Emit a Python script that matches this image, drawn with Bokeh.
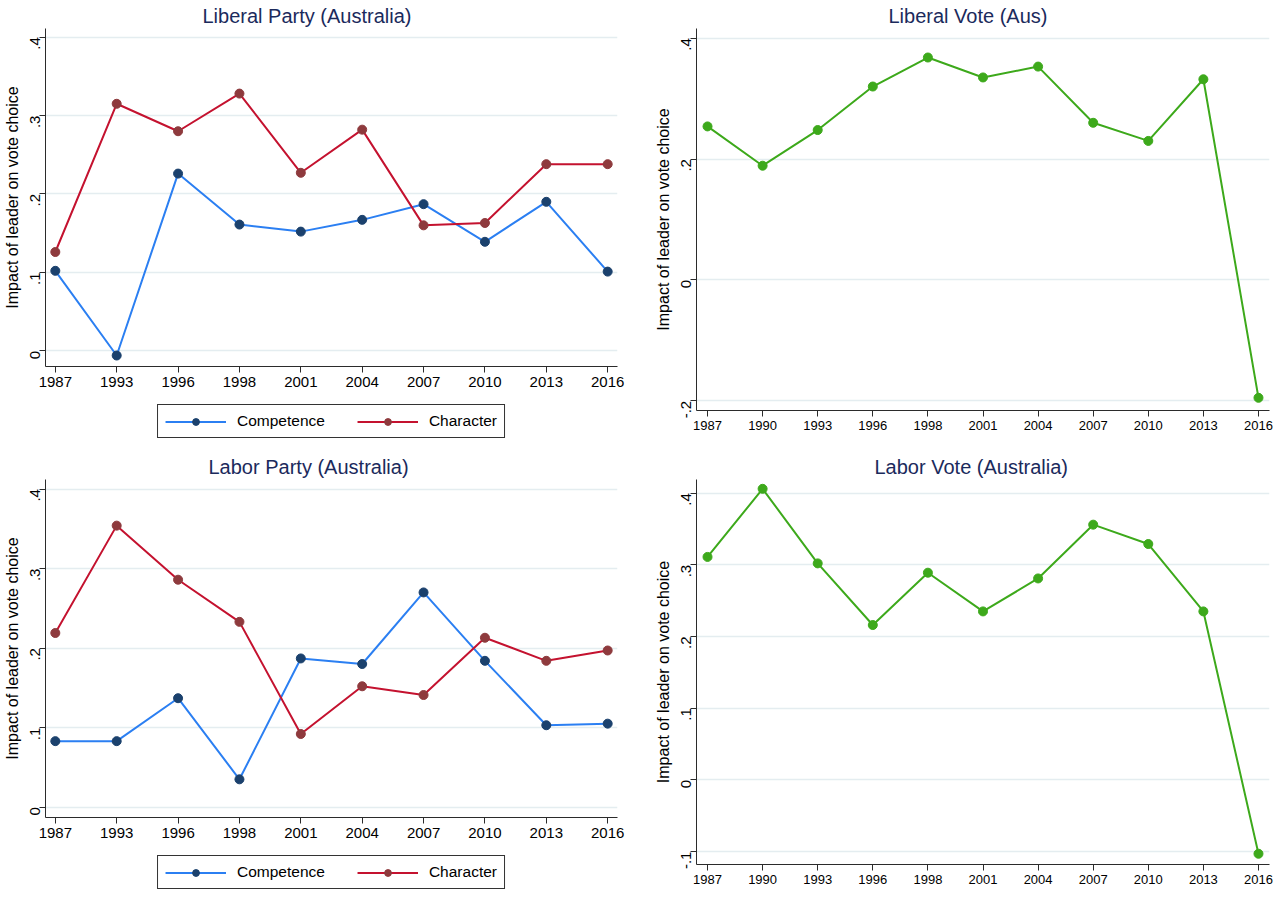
import math
from bokeh.plotting import figure
from bokeh.models import Range1d, FixedTicker, Legend, LegendItem
from bokeh.layouts import column, row
from bokeh.embed import file_html
from bokeh.resources import INLINE

# ---------------- data ----------------
party_years = ["1987", "1993", "1996", "1998", "2001", "2004", "2007", "2010", "2013", "2016"]
vote_years = ["1987", "1990", "1993", "1996", "1998", "2001", "2004", "2007", "2010", "2013", "2016"]

lib_competence = [0.102, -0.006, 0.226, 0.161, 0.152, 0.167, 0.187, 0.139, 0.190, 0.101]
lib_character = [0.126, 0.315, 0.280, 0.328, 0.227, 0.282, 0.160, 0.163, 0.238, 0.238]

lab_competence = [0.083, 0.083, 0.137, 0.035, 0.187, 0.180, 0.270, 0.184, 0.103, 0.105]
lab_character = [0.219, 0.354, 0.286, 0.233, 0.092, 0.152, 0.141, 0.213, 0.184, 0.197]

lib_vote = [0.254, 0.189, 0.248, 0.320, 0.368, 0.335, 0.353, 0.260, 0.230, 0.332, -0.195]
lab_vote = [0.311, 0.406, 0.302, 0.216, 0.289, 0.235, 0.281, 0.356, 0.329, 0.235, -0.103]

party_yticks = [0.0, 0.1, 0.2, 0.3, 0.4]
party_ylabels = ["0", ".1", ".2", ".3", ".4"]
lib_vote_yticks = [-0.2, 0.0, 0.2, 0.4]
lib_vote_ylabels = ["-.2", "0", ".2", ".4"]
lab_vote_yticks = [-0.1, 0.0, 0.1, 0.2, 0.3, 0.4]
lab_vote_ylabels = ["-.1", "0", ".1", ".2", ".3", ".4"]

series_labels = ["Competence", "Character"]

# ---------------- styles ----------------
FONT = "Liberation Sans"
TITLE_COLOR = "#1b2a5c"
AXIS_COLOR = "#2b2b2b"
GRID_COLOR = "#e4edf0"
COMP_LINE = "#2b7ff2"
COMP_MARK = "#1b416d"
CHAR_LINE = "#c4122f"
CHAR_MARK = "#8e3a3d"
GREEN = "#3da91b"
YTITLE = "Impact of leader on vote choice"

L_FW, L_MBL, L_MBR = 572, 38, 24
R_FW, R_MBL, R_MBR = 573, 55, 9


def make_fig(title, years, yrange, yticks, ylabels, pad, fw, fh, mbl, mbr, mbt, mbb,
             xfont, toffset):
    n = len(years)
    p = figure(frame_width=fw, frame_height=fh,
               x_range=Range1d(-pad, n - 1 + pad), y_range=Range1d(*yrange),
               output_backend="svg", toolbar_location=None,
               min_border_left=mbl, min_border_right=mbr, min_border_top=mbt,
               min_border_bottom=mbb)
    p.title.text = title
    p.title.text_font = FONT
    p.title.text_font_size = "20px"
    p.title.text_font_style = "normal"
    p.title.text_color = TITLE_COLOR
    p.title.align = "left"
    p.title.offset = toffset
    p.title.standoff = 4
    p.outline_line_color = None
    p.background_fill_color = "white"
    p.border_fill_color = "white"

    xa = p.xaxis[0]
    xa.ticker = FixedTicker(ticks=list(range(n)))
    xa.major_label_overrides = {i: y for i, y in enumerate(years)}
    xa.major_label_text_font = FONT
    xa.major_label_text_font_size = xfont
    xa.major_label_text_color = "black"
    xa.major_tick_out = 6
    xa.major_tick_in = 0
    xa.minor_tick_line_color = None
    xa.axis_line_color = AXIS_COLOR
    xa.major_tick_line_color = AXIS_COLOR
    xa.major_label_standoff = 4

    ya = p.yaxis[0]
    ya.ticker = FixedTicker(ticks=yticks)
    ya.major_label_overrides = {t: l for t, l in zip(yticks, ylabels)}
    ya.major_label_orientation = math.pi / 2
    ya.major_label_text_font = FONT
    ya.major_label_text_font_size = "15px"
    ya.major_label_text_color = "black"
    ya.major_tick_out = 6
    ya.major_tick_in = 0
    ya.minor_tick_line_color = None
    ya.axis_line_color = AXIS_COLOR
    ya.major_tick_line_color = AXIS_COLOR
    ya.major_label_standoff = 4
    ya.axis_label = YTITLE
    ya.axis_label_text_font = FONT
    ya.axis_label_text_font_size = "16px"
    ya.axis_label_text_font_style = "normal"
    ya.axis_label_text_color = "black"
    ya.axis_label_standoff = 2

    p.xgrid.grid_line_color = None
    p.ygrid.ticker = FixedTicker(ticks=yticks)
    p.ygrid.grid_line_color = GRID_COLOR
    p.ygrid.grid_line_width = 1.5
    return p


def legend_fig(comp, char):
    # legend-only strip: the series are drawn out of view so only the legend shows
    q = figure(frame_width=L_FW, frame_height=48,
               x_range=Range1d(100, 101), y_range=Range1d(100, 101),
               output_backend="svg", toolbar_location=None,
               min_border_left=L_MBL, min_border_right=L_MBR,
               min_border_top=0, min_border_bottom=0)
    q.axis.visible = False
    q.grid.grid_line_color = None
    q.outline_line_color = None
    xs = list(range(len(party_years)))
    l1 = q.line(xs, comp, line_color=COMP_LINE, line_width=2)
    s1 = q.scatter(xs, comp, size=9, fill_color=COMP_MARK, line_color=COMP_MARK)
    l2 = q.line(xs, char, line_color=CHAR_LINE, line_width=2)
    s2 = q.scatter(xs, char, size=9, fill_color=CHAR_MARK, line_color=CHAR_MARK)
    leg = Legend(items=[LegendItem(label=series_labels[0], renderers=[l1, s1], index=0),
                        LegendItem(label=series_labels[1], renderers=[l2, s2], index=0)],
                 orientation="horizontal", location="top_center")
    leg.label_text_font = FONT
    leg.label_text_font_size = "15.5px"
    leg.label_text_color = "black"
    leg.glyph_width = 61
    leg.glyph_height = 17
    leg.label_standoff = 11
    leg.spacing = 32
    leg.padding = 7
    leg.margin = 8
    leg.border_line_color = "#333333"
    leg.border_line_alpha = 1
    leg.border_line_width = 1
    leg.background_fill_color = "white"
    leg.background_fill_alpha = 1
    q.add_layout(leg, "center")
    return q


def party_panel(title, comp, char, yrange, mbt, toffset):
    p = make_fig(title, party_years, yrange, party_yticks, party_ylabels,
                 0.16, L_FW, 338, L_MBL, L_MBR, mbt, 30, "15px", toffset)
    xs = list(range(len(party_years)))
    p.line(xs, comp, line_color=COMP_LINE, line_width=2)
    p.scatter(xs, comp, size=9, fill_color=COMP_MARK, line_color=COMP_MARK)
    p.line(xs, char, line_color=CHAR_LINE, line_width=2)
    p.scatter(xs, char, size=9, fill_color=CHAR_MARK, line_color=CHAR_MARK)
    return column(p, legend_fig(comp, char), spacing=0)


def vote_panel(title, vals, yrange, yticks, ylabels, fh, mbt, toffset):
    p = make_fig(title, vote_years, yrange, yticks, ylabels,
                 0.2, R_FW, fh, R_MBL, R_MBR, mbt, 20, "13px", toffset)
    xs = list(range(len(vote_years)))
    p.line(xs, vals, line_color=GREEN, line_width=2)
    p.scatter(xs, vals, size=9, fill_color=GREEN, line_color=GREEN)
    return p


tl = party_panel("Liberal Party (Australia)", lib_competence, lib_character,
                 (-0.02, 0.411), 24, 157)
tr = vote_panel("Liberal Vote (Aus)", lib_vote, (-0.216, 0.416),
                lib_vote_yticks, lib_vote_ylabels, 382, 22, 192)
bl = party_panel("Labor Party (Australia)", lab_competence, lab_character,
                 (-0.013, 0.412), 35, 163)
br = vote_panel("Labor Vote (Australia)", lab_vote, (-0.118, 0.419),
                lab_vote_yticks, lab_vote_ylabels, 385, 35, 178)

layout = column(row(tl, tr, spacing=0), row(bl, br, spacing=0), spacing=0)

open("out.html", "w").write(file_html(layout, INLINE))
